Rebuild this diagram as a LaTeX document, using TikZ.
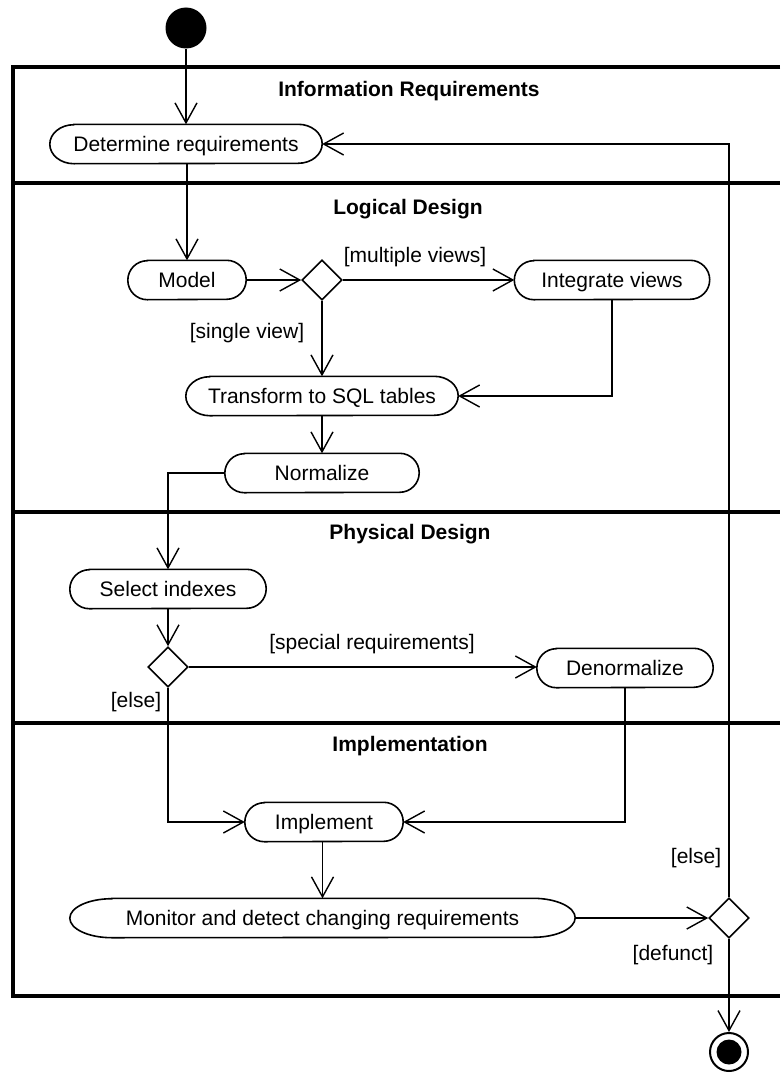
\documentclass[tikz,border=0pt]{standalone}
\usepackage{fontspec}
\setmainfont{Liberation Sans}
\usetikzlibrary{arrows.meta,shapes.geometric}

\tikzset{
  act/.style={rectangle, inner sep=0pt, minimum height=39pt, text height=15pt, text depth=0pt},
  choice/.style={diamond, draw, line width=1.6pt, minimum size=40pt, inner sep=0pt},
  flow/.style={line width=1.4pt, -{Straight Barb[length=20pt,width=22pt]}},
  lane/.style={line width=3.5pt},
  lanetitle/.style={font=\fontsize{21}{25}\bfseries},
  guard/.style={inner sep=0pt, text height=15pt, text depth=0pt}
}

% outline of an action node, #2 = length of the rounded ends
\newcommand{\actshape}[2]{%
  \draw[line width=1.6pt] ([xshift=#2]#1.north west) -- ([xshift=-#2]#1.north east)
    arc[start angle=90, end angle=-90, x radius=#2, y radius=19.5pt]
    -- ([xshift=#2]#1.south west)
    arc[start angle=270, end angle=90, x radius=#2, y radius=19.5pt] -- cycle;}

\begin{document}
\begin{tikzpicture}[x=1pt, y=-1pt, font=\fontsize{21}{25}\selectfont]
    \useasboundingbox (0,0) rectangle (780,1073);

    % Swimlane frame
    \draw[lane] (780,67) -- (13,67) -- (13,996) -- (780,996);
    \foreach \y in {183,512,723}
        \draw[lane] (13,\y) -- (780,\y);

    % Lane titles
    \node[lanetitle] (tinfo) at (409,91) {Information Requirements};
    \node[lanetitle] (tlogic) at (408,209) {Logical Design};
    \node[lanetitle] (tphys) at (410,534) {Physical Design};
    \node[lanetitle] (timpl) at (410,746) {Implementation};

    % Start and end
    \node[circle, fill, minimum size=41pt, inner sep=0pt] (start) at (186,28) {};
    \node[circle, draw, line width=2pt, minimum size=38pt, inner sep=0pt] (end) at (729,1052) {};
    \node[circle, fill, minimum size=25pt, inner sep=0pt] (endcore) at (end) {};

    % Actions
    \node[act, minimum width=272pt] (det) at (186,144) {Determine requirements};
    \node[act, minimum width=118pt] (model) at (187,280) {Model};
    \node[act, minimum width=195pt] (integ) at (612,280) {Integrate views};
    \node[act, minimum width=272pt] (trans) at (322,396) {Transform to SQL tables};
    \node[act, minimum width=194pt] (norm) at (322,473) {Normalize};
    \node[act, minimum width=196pt] (sel) at (168,589) {Select indexes};
    \node[act, minimum width=176pt] (denorm) at (625,668) {Denormalize};
    \node[act, minimum width=158pt] (impl) at (324,822) {Implement};
    \node[act, minimum width=505pt] (mon) at (322.5,918) {Monitor and detect changing requirements};
    \foreach \n/\c in {det/24pt, model/19.5pt, integ/19.5pt, trans/24pt, norm/19.5pt,
                       sel/19.5pt, denorm/19.5pt, impl/19.5pt, mon/42pt}
        \actshape{\n}{\c};

    % Decisions
    \node[choice] (d1) at (322,280) {};
    \node[choice] (d2) at (168,667) {};
    \node[choice] (d3) at (729,918) {};

    % Guards
    \node[guard] (gmulti) at (415,255) {[multiple views]};
    \node[guard] (gsingle) at (247,331) {[single view]};
    \node[guard] (gspecial) at (372,642) {[special requirements]};
    \node[guard] (gelse) at (136,700) {[else]};
    \node[guard] (gagain) at (696,856) {[else]};
    \node[guard] (gdefunct) at (673,953) {[defunct]};

    % Flows
    \draw[flow] (start) -- (det);
    \draw[flow] (det.south -| model) -- (model);
    \draw[flow] (model) -- (d1);
    \draw[flow] (d1) -- (integ);
    \draw[flow] (d1) -- (trans);
    \draw[flow] (integ.south) |- (trans.east);
    \draw[flow] (trans) -- (norm);
    \draw[flow] (norm.west) -| (sel.north);
    \draw[flow] (sel) -- (d2);
    \draw[flow] (d2) -- (denorm.west |- d2);
    \draw[flow] (d2.south) |- (impl.west);
    \draw[flow] (denorm.south) |- (impl.east);
    \draw[flow] (impl.south -| mon) -- (mon);
    \draw[flow] (mon) -- (d3);
    \draw[flow] (d3.north) |- (det.east);
    \draw[flow] (d3) -- (end);
\end{tikzpicture}
\end{document}
